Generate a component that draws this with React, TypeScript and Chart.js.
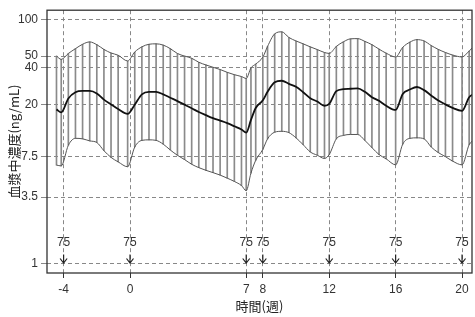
import React, { useEffect, useRef } from 'react';
import { Chart, registerables } from 'chart.js';

Chart.register(...registerables);

// Time points (days from week 0)
const days = [
  -31, -29, -26, -23, -20, -17, -14, -11, -8, -5, -1,
  2, 5, 8, 11, 14, 17, 20, 23, 26, 29, 32, 35, 38, 41, 44, 47, 49,
  51, 53, 56, 58, 61, 64, 67, 70, 73, 76, 79, 82, 84,
  87, 90, 93, 96, 99, 102, 105, 108, 112,
  115, 118, 121, 124, 127, 130, 133, 136, 140,
  143, 145,
];

// Upper bound of concentration (ng/mL)
const upper = [
  50, 47, 52.5, 57.5, 62.5, 65.3, 62, 56.7, 53, 50.8, 45.6,
  54, 59.5, 62.5, 63, 61.5, 57.5, 52.5, 50, 48, 44.5, 42.3, 40.5, 38.8, 36.8, 35.2, 34, 32.8,
  40, 43, 49, 60, 76, 79, 71, 66.5, 63, 59.5, 56.5, 53.5, 52.6,
  60, 65.5, 69.2, 69.5, 66, 62, 57, 52.8, 49.2,
  59, 65, 68.2, 66.5, 61, 56.7, 53.5, 51, 49.2,
  55, 60,
];

// Mean concentration (ng/mL)
const mean = [
  18.3, 17.3, 22.5, 25.3, 25.9, 25.9, 24.7, 22.0, 20.1, 18.4, 16.8,
  20.0, 24.3, 25.5, 25.5, 24.3, 22.8, 21.4, 20.0, 18.7, 17.4, 16.4, 15.5, 14.8, 14.1, 13.3, 12.5, 11.8,
  15.0, 18.8, 21.7, 25.5, 30.5, 31.4, 29.6, 28.0, 25.3, 22.6, 21.2, 19.6, 20.3,
  25.8, 26.8, 27.0, 27.2, 25.5, 23.0, 21.5, 19.6, 18.1,
  24.5, 26.6, 27.9, 26.3, 23.8, 21.6, 20.1, 18.8, 17.8,
  23.0, 24.5,
];

// Lower bound of concentration (ng/mL)
const lower = [
  6.4, 6.3, 9.3, 10.6, 10.5, 10.1, 9.8, 8.4, 7.4, 6.8, 6.2,
  9.0, 10.2, 10.3, 10.2, 9.5, 8.5, 7.7, 7.1, 6.5, 6.1, 5.8, 5.55, 5.3, 5.0, 4.7, 4.35, 3.95,
  5.5, 7.0, 8.6, 10.5, 11.9, 12.1, 11.8, 10.7, 9.4, 8.2, 7.7, 7.25, 7.8,
  10.5, 11.2, 11.4, 11.4, 10.2, 8.9, 7.8, 7.2, 6.43,
  9.5, 10.6, 10.7, 10.5, 9.0, 8.1, 7.5, 6.9, 6.43,
  9.4, 10.3,
];

// Dosing (weeks) and dose labels (mg)
const doseWeeks = [-4, 0, 7, 8, 12, 16, 20];
const doseLabels = ['75', '75', '75', '75', '75', '75', '75'];

const xTicks = [-4, 0, 7, 8, 12, 16, 20];
const yTicks = [1, 3.5, 7.5, 20, 40, 50, 100];

const LATIN = '"Liberation Sans", Arial, "Noto Sans CJK JP", sans-serif';
const CJK = '"Noto Sans CJK JP", "Noto Sans", sans-serif';

const framePlugin = {
  id: 'frameAndDoses',
  afterDatasetsDraw(chart: any) {
    const { ctx, chartArea: a, scales } = chart;
    ctx.save();
    ctx.strokeStyle = '#333';
    ctx.lineWidth = 1.3;
    ctx.setLineDash([]);
    ctx.strokeRect(a.left, a.top, a.right - a.left, a.bottom - a.top);

    const yTip = scales.y.getPixelForValue(1);
    ctx.fillStyle = '#333';
    ctx.font = '12px ' + LATIN;
    ctx.textAlign = 'center';
    ctx.textBaseline = 'middle';
    doseWeeks.forEach((w, i) => {
      const x = scales.x.getPixelForValue(w);
      ctx.beginPath();
      ctx.lineWidth = 1.2;
      ctx.strokeStyle = '#222';
      ctx.moveTo(x, yTip - 9);
      ctx.lineTo(x, yTip - 0.5);
      ctx.moveTo(x - 3.5, yTip - 5);
      ctx.lineTo(x, yTip - 0.5);
      ctx.lineTo(x + 3.5, yTip - 5);
      ctx.stroke();
      ctx.fillText(doseLabels[i], x, yTip - 21);
    });
    ctx.restore();
  },
};

export default function App() {
  const ref = useRef<HTMLCanvasElement | null>(null);

  useEffect(() => {
    if (!ref.current) return;
    const weeks = days.map((d) => d / 7);
    const chart = new Chart(ref.current, {
      type: 'line',
      data: {
        datasets: [
          {
            type: 'line',
            data: weeks.map((w, i) => ({ x: w, y: mean[i] })),
            borderColor: '#111',
            borderWidth: 1.8,
            pointRadius: 0,
            cubicInterpolationMode: 'monotone',
            order: 1,
          },
          {
            type: 'line',
            data: weeks.map((w, i) => ({ x: w, y: upper[i] })),
            borderColor: '#555',
            borderWidth: 1,
            pointRadius: 0,
            cubicInterpolationMode: 'monotone',
            order: 2,
          },
          {
            type: 'line',
            data: weeks.map((w, i) => ({ x: w, y: lower[i] })),
            borderColor: '#555',
            borderWidth: 1,
            pointRadius: 0,
            cubicInterpolationMode: 'monotone',
            order: 2,
          },
          {
            type: 'bar',
            data: weeks.map((w, i) => ({ x: w, y: [lower[i], upper[i]] })),
            backgroundColor: '#8a8a8a',
            borderWidth: 0,
            barThickness: 1,
            grouped: false,
            order: 3,
          } as any,
        ],
      },
      options: {
        responsive: false,
        animation: false,
        layout: { padding: { top: 5, right: 3, left: 0, bottom: 0 } },
        plugins: { legend: { display: false }, tooltip: { enabled: false } },
        scales: {
          x: {
            type: 'linear',
            min: -5,
            max: 20.6,
            offset: false,
            afterBuildTicks: (s: any) => {
              s.ticks = xTicks.map((v) => ({ value: v }));
            },
            afterFit: (s: any) => {
              s.height = 44;
            },
            ticks: {
              autoSkip: false,
              maxRotation: 0,
              padding: 4,
              color: '#333',
              font: { size: 12, family: LATIN },
              callback: (v: any) => String(v),
            },
            grid: {
              color: '#888',
              lineWidth: 1,
              tickLength: 5,
              tickColor: '#333',
              tickBorderDash: [],
              offset: false,
            },
            border: { display: false, dash: [4, 3] },
            title: {
              display: true,
              text: '時間(週)',
              color: '#222',
              font: { size: 13, family: CJK },
              padding: { top: 0, bottom: 3 },
            },
          },
          y: {
            type: 'logarithmic',
            min: 0.836,
            max: 118.8,
            afterBuildTicks: (s: any) => {
              s.ticks = yTicks.map((v) => ({ value: v }));
            },
            afterFit: (s: any) => {
              s.width = 47;
            },
            ticks: {
              autoSkip: false,
              padding: 3,
              color: '#333',
              font: { size: 12, family: LATIN },
              callback: (v: any) => String(v),
            },
            grid: {
              color: '#888',
              lineWidth: 1,
              tickLength: 6,
              tickColor: '#888',
              tickBorderDash: [],
            },
            border: { display: false, dash: [4, 3] },
            title: {
              display: true,
              text: '血漿中濃度(ng/mL)',
              color: '#222',
              font: { size: 13, family: CJK },
              padding: { top: 6, bottom: 0 },
            },
          },
        },
      } as any,
      plugins: [framePlugin],
    });
    return () => chart.destroy();
  }, []);

  return (
    <div style={{ position: 'fixed', left: 0, top: 0, width: 475, height: 317, background: '#fff' }}>
      <canvas ref={ref} width={475} height={317} style={{ display: 'block' }} />
    </div>
  );
}
